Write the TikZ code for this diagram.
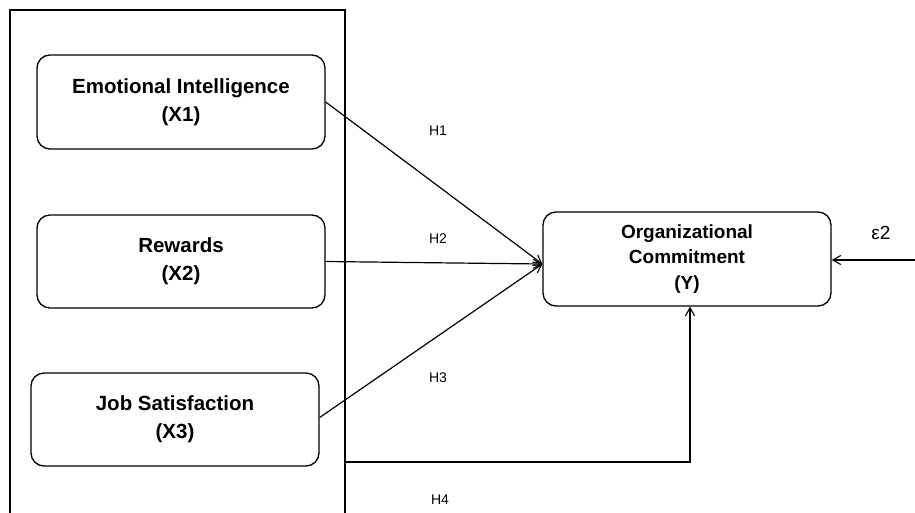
\documentclass[tikz,border=0pt]{standalone}
\usepackage{fontspec}
\setmainfont{Liberation Sans}
\usetikzlibrary{arrows.meta}
\begin{document}
\begin{tikzpicture}[x=1pt,y=-1pt,
  var/.style={draw, line width=1.3pt, rounded corners=13pt, align=center, inner sep=0pt,
    font=\bfseries\fontsize{20.5}{28}\selectfont},
  outvar/.style={var, font=\bfseries\fontsize{19}{25.5}\selectfont},
  conn/.style={line width=1.2pt, -{Straight Barb[length=8pt,width=9pt,line width=1.1pt]}},
  hyp/.style={font=\fontsize{14}{16}\selectfont, inner sep=0pt}]
\useasboundingbox (0,0) rectangle (915,512);
\fill[white] (0,0) rectangle (915,512);
\draw[line width=1.4pt] (10,515) -- (10,10) -- (345,10) -- (345,515);
\node[var, minimum width=288pt, minimum height=94pt] (x1) at (181,102) {Emotional Intelligence\\(X1)};
\node[var, minimum width=288pt, minimum height=93pt] (x2) at (181,261.5) {Rewards\\(X2)};
\node[var, minimum width=288pt, minimum height=93pt] (x3) at (175,419.5) {Job Satisfaction\\(X3)};
\node[outvar, minimum width=288pt, minimum height=94pt] (y) at (687,259) {Organizational\\Commitment\\(Y)};
\coordinate (tip) at ([yshift=-5pt]y.west);
\draw[conn] (x1.east) -- (tip);
\draw[conn] (x2.east) -- (tip);
\draw[conn] ([yshift=2pt]x3.east) -- (tip);
\coordinate (h4s) at (345,462);
\draw[conn] (h4s) -| ([xshift=3pt]y.south);
\coordinate (err) at (916,260);
\draw[conn] (err) -- (y.east |- err);
\node[hyp] (h1) at (438,131) {H1};
\node[hyp] (h2) at (438,239) {H2};
\node[hyp] (h3) at (438,378) {H3};
\node[hyp] (h4) at (440,500) {H4};
\node[font=\fontsize{19}{20}\selectfont, inner sep=0pt] (eps) at (881,233) {ε2};
\end{tikzpicture}
\end{document}
